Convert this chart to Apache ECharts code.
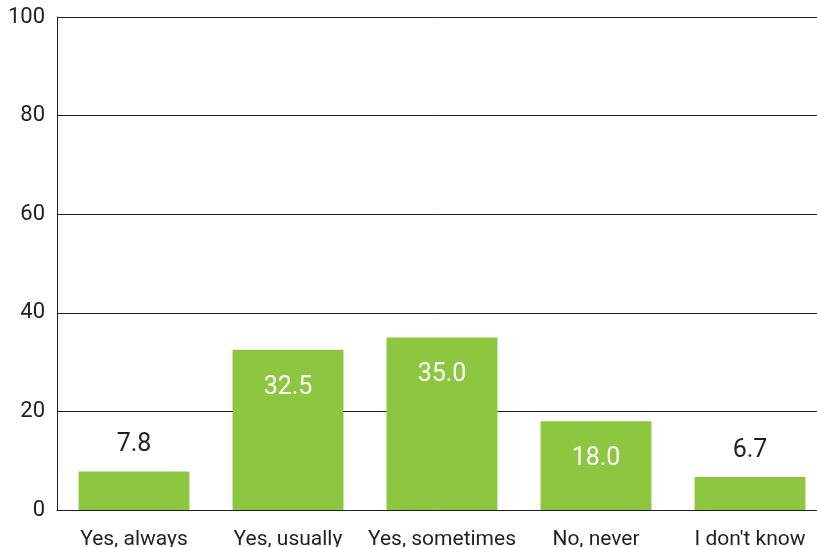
<!DOCTYPE html>
<html>
<head>
<meta charset="utf-8">
<script src="https://cdn.jsdelivr.net/npm/echarts@6/dist/echarts.min.js"></script>
<style>
  html, body { margin: 0; padding: 0; background: #fff; }
  #main { width: 817px; height: 547px; }
</style>
</head>
<body>
<div id="main"></div>
<script>
var categories = ['Yes, always', 'Yes, usually', 'Yes, sometimes', 'No, never', "I don't know"]
var values = [7.8, 32.5, 35.0, 18.0, 6.7]
var labelInside = [false, true, true, true, false]

var textColor = '#231f20'
var green = '#8dc63f'

var chart = echarts.init(document.getElementById('main'))

var option = {
  animation: false,
  grid: { left: 57, right: -10, top: 17, bottom: 37, containLabel: false, outerBoundsMode: 'none' },
  xAxis: {
    type: 'category',
    data: categories,
    axisLine: { show: true, lineStyle: { color: textColor, width: 1 } },
    axisTick: { show: false },
    axisLabel: { color: textColor, fontFamily: 'Roboto', fontSize: 21, margin: 19, interval: 0 }
  },
  yAxis: {
    type: 'value',
    min: 0,
    max: 100,
    interval: 20,
    axisLine: { show: true, lineStyle: { color: textColor, width: 1 } },
    axisTick: { show: false },
    axisLabel: { color: textColor, fontFamily: 'Roboto', fontSize: 22, margin: 12 },
    splitLine: { show: true, lineStyle: { color: textColor, width: 1 } }
  },
  series: [{
    type: 'bar',
    barWidth: '72%',
    itemStyle: { color: green },
    data: values.map(function (v, i) {
      return {
        value: v,
        label: labelInside[i]
          ? { position: 'insideTop', distance: 25, color: '#fff' }
          : { position: 'top', distance: 14, color: textColor }
      }
    }),
    label: {
      show: true,
      fontFamily: 'Roboto',
      fontSize: 25,
      formatter: function (p) { return p.value.toFixed(1) }
    }
  }]
}

chart.setOption(option)
</script>
</body>
</html>
